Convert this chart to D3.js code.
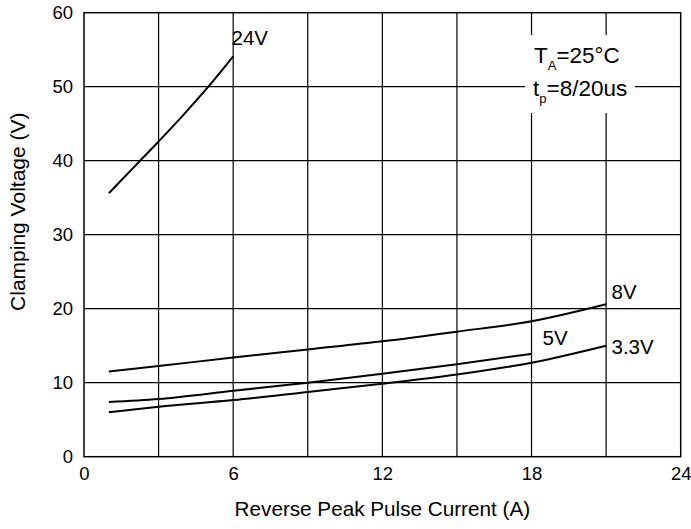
<!DOCTYPE html>
<html>
<head>
<meta charset="utf-8">
<script src="https://cdn.jsdelivr.net/npm/d3@7"></script>
<style>
  body { margin: 0; background: #fff; }
  text { font-family: "Liberation Sans", Arial, sans-serif; fill: #000; }
</style>
</head>
<body>
<div id="chart"></div>
<script>
// data (current in A, clamping voltage in V)
const xTicks = [0, 6, 12, 18, 24];
const yTicks = [0, 10, 20, 30, 40, 50, 60];
const xGrid = [3, 6, 9, 12, 15, 18, 21];
const yGrid = [10, 20, 30, 40, 50];

const v24 = [[1, 35.6], [2, 39.1], [3, 42.6], [4, 46.2], [5, 50.0], [6, 54.1]];
const v8 = [[1, 11.5], [3, 12.25], [6, 13.4], [9, 14.5], [12, 15.6], [15, 16.9], [18, 18.3], [21, 20.6]];
const v5 = [[1, 7.4], [3, 7.8], [6, 8.9], [9, 10.0], [12, 11.2], [15, 12.5], [18, 13.9]];
const v33 = [[1, 6.0], [3, 6.75], [6, 7.65], [9, 8.75], [12, 9.85], [15, 11.1], [18, 12.7], [21, 15.0]];

const seriesNames = ["24V", "8V", "5V", "3.3V"];

let width = 691, height = 529;
let margin = { top: 12.7, right: 10.3, bottom: 72.3, left: 84 };

let svg = d3.select('#chart').append('svg')
  .attr('width', width)
  .attr('height', height);

let xScale = d3.scaleLinear()
  .domain([0, 24])
  .range([margin.left, width - margin.right]);

let yScale = d3.scaleLinear()
  .domain([0, 60])
  .range([height - margin.bottom, margin.top]);

// grid lines
svg.append('g').selectAll('line.gx')
  .data(xGrid).enter().append('line')
  .attr('x1', d => xScale(d)).attr('x2', d => xScale(d))
  .attr('y1', yScale(0)).attr('y2', yScale(60))
  .attr('stroke', '#000').attr('stroke-width', 1.2);

svg.append('g').selectAll('line.gy')
  .data(yGrid).enter().append('line')
  .attr('x1', xScale(0)).attr('x2', xScale(24))
  .attr('y1', d => yScale(d)).attr('y2', d => yScale(d))
  .attr('stroke', '#000').attr('stroke-width', 1.2);

// white box behind the conditions text
svg.append('rect')
  .attr('x', 525).attr('y', 35)
  .attr('width', 110).attr('height', 78)
  .attr('fill', '#fff');

// frame
svg.append('rect')
  .attr('x', xScale(0)).attr('y', yScale(60))
  .attr('width', xScale(24) - xScale(0))
  .attr('height', yScale(0) - yScale(60))
  .attr('fill', 'none').attr('stroke', '#000').attr('stroke-width', 1.5);

// axes (labels only)
let xAxis = svg.append('g')
  .attr('transform', `translate(0, ${yScale(0)})`)
  .call(d3.axisBottom(xScale).tickValues(xTicks).tickSize(0).tickPadding(10));
let yAxis = svg.append('g')
  .attr('transform', `translate(${xScale(0)}, 0)`)
  .call(d3.axisLeft(yScale).tickValues(yTicks).tickSize(0).tickPadding(11));
[xAxis, yAxis].forEach(a => {
  a.select('.domain').remove();
  a.selectAll('text').style('font-size', '18.5px').style('font-family', '"Liberation Sans", Arial, sans-serif');
});

// curves
let line = d3.line()
  .x(d => xScale(d[0]))
  .y(d => yScale(d[1]))
  .curve(d3.curveMonotoneX);

[v24, v8, v5, v33].forEach(s => {
  svg.append('path')
    .datum(s)
    .attr('d', line)
    .attr('fill', 'none')
    .attr('stroke', '#000')
    .attr('stroke-width', 2);
});

// curve labels
const labelPos = [[231.5, 45], [611.5, 298.5], [542.5, 345], [611.5, 353.5]];
seriesNames.forEach((n, i) => {
  svg.append('text')
    .attr('x', labelPos[i][0])
    .attr('y', labelPos[i][1])
    .style('font-size', '20.5px')
    .text(n);
});

// conditions
let t1 = svg.append('text').attr('x', 534).attr('y', 62.5).style('font-size', '22.5px');
t1.append('tspan').text('T');
t1.append('tspan').attr('dy', 7).style('font-size', '13px').text('A');
t1.append('tspan').attr('dy', -7).text('=25°C');

let t2 = svg.append('text').attr('x', 533).attr('y', 96).style('font-size', '22.5px');
t2.append('tspan').text('t');
t2.append('tspan').attr('dy', 7).style('font-size', '13px').text('p');
t2.append('tspan').attr('dy', -7).text('=8/20us');

// axis titles
svg.append('text')
  .attr('x', (xScale(0) + xScale(24)) / 2)
  .attr('y', 516)
  .attr('text-anchor', 'middle')
  .style('font-size', '20.7px')
  .text('Reverse Peak Pulse Current (A)');

svg.append('text')
  .attr('transform', 'translate(25, 211.7) rotate(-90)')
  .attr('text-anchor', 'middle')
  .style('font-size', '21px')
  .text('Clamping Voltage (V)');
</script>
</body>
</html>
